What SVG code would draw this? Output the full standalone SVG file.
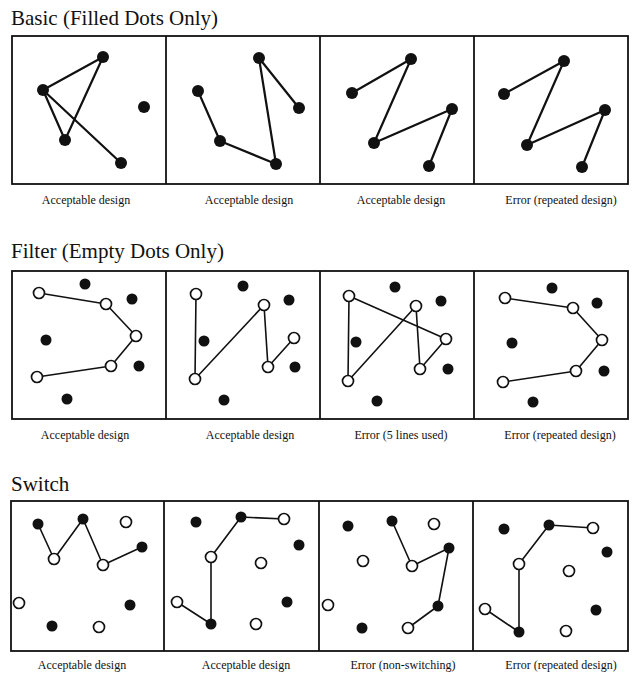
<svg xmlns="http://www.w3.org/2000/svg" width="634" height="681" viewBox="0 0 634 681">
<style>
.bg{fill:#fff}
.box{fill:none;stroke:#111;stroke-width:1.8}
.title{font-family:"Liberation Serif","Times New Roman",serif;font-size:21px;fill:#111}
.cap{font-family:"Liberation Serif","Times New Roman",serif;font-size:12px;fill:#111;text-anchor:middle}
.l1{stroke:#111;stroke-width:2.2;fill:none;stroke-linecap:round;stroke-linejoin:round}
.l2{stroke:#111;stroke-width:1.6;fill:none;stroke-linecap:round;stroke-linejoin:round}
.f{fill:#111}
.e{fill:#fff;stroke:#111;stroke-width:1.7}
</style>
<rect class="bg" width="634" height="681"/>

<text class="title" x="11" y="25">Basic (Filled Dots Only)</text>
<text class="title" x="11" y="258">Filter (Empty Dots Only)</text>
<text class="title" x="11" y="491">Switch</text>

<g id="frames">
<rect class="box" x="12" y="36" width="616" height="148"/>
<line class="box" x1="166" y1="36" x2="166" y2="184"/>
<line class="box" x1="320" y1="36" x2="320" y2="184"/>
<line class="box" x1="474" y1="36" x2="474" y2="184"/>
<rect class="box" x="12" y="271" width="616" height="148"/>
<line class="box" x1="166" y1="271" x2="166" y2="419"/>
<line class="box" x1="320" y1="271" x2="320" y2="419"/>
<line class="box" x1="474" y1="271" x2="474" y2="419"/>
<rect class="box" x="11" y="501" width="617" height="150"/>
<line class="box" x1="164" y1="501" x2="164" y2="651"/>
<line class="box" x1="319" y1="501" x2="319" y2="651"/>
<line class="box" x1="473" y1="501" x2="473" y2="651"/>
</g>

<g id="connectors">
<!-- row 1 -->
<polyline class="l1" points="103,57 65,140 43,90 103,57"/>
<line class="l1" x1="43" y1="90" x2="121" y2="163"/>
<polyline class="l1" points="198,91 220,141 276,164 259,58 299,108"/>
<polyline class="l1" points="352,93 411,59 374,143 452,109 429,166"/>
<polyline class="l1" points="504,94 564,61 527,145 605,110 582,167"/>
<!-- row 2 -->
<polyline class="l2" points="39,293 106,304 136,336 111,366 37,377"/>
<polyline class="l2" points="196,294 195,379 264,305 268,367 294,338"/>
<polyline class="l2" points="349,296 348,381 416,306 420,369 446,339 349,296"/>
<polyline class="l2" points="505,298 573,308 602,340 576,371 503,382"/>
<!-- row 3 -->
<polyline class="l2" points="38,524 54,559 83,519 103,565 142,547"/>
<polyline class="l2" points="284,519 241,517 211,557 211,624 177,602"/>
<polyline class="l2" points="392,521 412,566 449,548 438,606 408,628"/>
<polyline class="l2" points="593,528 549,525 519,564 519,632 485,609"/>
</g>

<g id="panel-basic-1">
<circle class="f" cx="103" cy="57" r="6"/>
<circle class="f" cx="43" cy="90" r="6"/>
<circle class="f" cx="65" cy="140" r="6"/>
<circle class="f" cx="121" cy="163" r="6"/>
<circle class="f" cx="144" cy="107" r="6"/>
</g>
<g id="panel-basic-2">
<circle class="f" cx="259" cy="58" r="6"/>
<circle class="f" cx="198" cy="91" r="6"/>
<circle class="f" cx="299" cy="108" r="6"/>
<circle class="f" cx="220" cy="141" r="6"/>
<circle class="f" cx="276" cy="164" r="6"/>
</g>
<g id="panel-basic-3">
<circle class="f" cx="411" cy="59" r="6"/>
<circle class="f" cx="352" cy="93" r="6"/>
<circle class="f" cx="452" cy="109" r="6"/>
<circle class="f" cx="374" cy="143" r="6"/>
<circle class="f" cx="429" cy="166" r="6"/>
</g>
<g id="panel-basic-4">
<circle class="f" cx="564" cy="61" r="6"/>
<circle class="f" cx="504" cy="94" r="6"/>
<circle class="f" cx="605" cy="110" r="6"/>
<circle class="f" cx="527" cy="145" r="6"/>
<circle class="f" cx="582" cy="167" r="6"/>
</g>

<g id="panel-filter-1">
<circle class="f" cx="85" cy="284" r="5.5"/>
<circle class="f" cx="132" cy="299" r="5.5"/>
<circle class="f" cx="46" cy="340" r="5.5"/>
<circle class="f" cx="139" cy="366" r="5.5"/>
<circle class="f" cx="67" cy="399" r="5.5"/>
<circle class="e" cx="39" cy="293" r="5.5"/>
<circle class="e" cx="106" cy="304" r="5.5"/>
<circle class="e" cx="136" cy="336" r="5.5"/>
<circle class="e" cx="111" cy="366" r="5.5"/>
<circle class="e" cx="37" cy="377" r="5.5"/>
</g>
<g id="panel-filter-2">
<circle class="f" cx="243" cy="286" r="5.5"/>
<circle class="f" cx="289" cy="300" r="5.5"/>
<circle class="f" cx="204" cy="341" r="5.5"/>
<circle class="f" cx="295" cy="367" r="5.5"/>
<circle class="f" cx="224" cy="400" r="5.5"/>
<circle class="e" cx="196" cy="294" r="5.5"/>
<circle class="e" cx="264" cy="305" r="5.5"/>
<circle class="e" cx="294" cy="338" r="5.5"/>
<circle class="e" cx="268" cy="367" r="5.5"/>
<circle class="e" cx="195" cy="379" r="5.5"/>
</g>
<g id="panel-filter-3">
<circle class="f" cx="395" cy="287" r="5.5"/>
<circle class="f" cx="441" cy="301" r="5.5"/>
<circle class="f" cx="356" cy="342" r="5.5"/>
<circle class="f" cx="448" cy="369" r="5.5"/>
<circle class="f" cx="377" cy="401" r="5.5"/>
<circle class="e" cx="349" cy="296" r="5.5"/>
<circle class="e" cx="416" cy="306" r="5.5"/>
<circle class="e" cx="446" cy="339" r="5.5"/>
<circle class="e" cx="420" cy="369" r="5.5"/>
<circle class="e" cx="348" cy="381" r="5.5"/>
</g>
<g id="panel-filter-4">
<circle class="f" cx="552" cy="288" r="5.5"/>
<circle class="f" cx="597" cy="303" r="5.5"/>
<circle class="f" cx="512" cy="343" r="5.5"/>
<circle class="f" cx="604" cy="371" r="5.5"/>
<circle class="f" cx="533" cy="402" r="5.5"/>
<circle class="e" cx="505" cy="298" r="5.5"/>
<circle class="e" cx="573" cy="308" r="5.5"/>
<circle class="e" cx="602" cy="340" r="5.5"/>
<circle class="e" cx="576" cy="371" r="5.5"/>
<circle class="e" cx="503" cy="382" r="5.5"/>
</g>

<g id="panel-switch-1">
<circle class="f" cx="38" cy="524" r="5.5"/>
<circle class="f" cx="83" cy="519" r="5.5"/>
<circle class="f" cx="142" cy="547" r="5.5"/>
<circle class="f" cx="130" cy="605" r="5.5"/>
<circle class="f" cx="52" cy="626" r="5.5"/>
<circle class="e" cx="126" cy="522" r="5.5"/>
<circle class="e" cx="54" cy="559" r="5.5"/>
<circle class="e" cx="103" cy="565" r="5.5"/>
<circle class="e" cx="19" cy="603" r="5.5"/>
<circle class="e" cx="99" cy="627" r="5.5"/>
</g>
<g id="panel-switch-2">
<circle class="f" cx="196" cy="522" r="5.5"/>
<circle class="f" cx="241" cy="517" r="5.5"/>
<circle class="f" cx="299" cy="545" r="5.5"/>
<circle class="f" cx="287" cy="602" r="5.5"/>
<circle class="f" cx="211" cy="624" r="5.5"/>
<circle class="e" cx="284" cy="519" r="5.5"/>
<circle class="e" cx="211" cy="557" r="5.5"/>
<circle class="e" cx="261" cy="563" r="5.5"/>
<circle class="e" cx="177" cy="602" r="5.5"/>
<circle class="e" cx="256" cy="624" r="5.5"/>
</g>
<g id="panel-switch-3">
<circle class="f" cx="348" cy="526" r="5.5"/>
<circle class="f" cx="392" cy="521" r="5.5"/>
<circle class="f" cx="449" cy="548" r="5.5"/>
<circle class="f" cx="438" cy="606" r="5.5"/>
<circle class="f" cx="362" cy="628" r="5.5"/>
<circle class="e" cx="434" cy="524" r="5.5"/>
<circle class="e" cx="363" cy="561" r="5.5"/>
<circle class="e" cx="412" cy="566" r="5.5"/>
<circle class="e" cx="328" cy="605" r="5.5"/>
<circle class="e" cx="408" cy="628" r="5.5"/>
</g>
<g id="panel-switch-4">
<circle class="f" cx="504" cy="529" r="5.5"/>
<circle class="f" cx="549" cy="525" r="5.5"/>
<circle class="f" cx="607" cy="552" r="5.5"/>
<circle class="f" cx="596" cy="610" r="5.5"/>
<circle class="f" cx="519" cy="632" r="5.5"/>
<circle class="e" cx="593" cy="528" r="5.5"/>
<circle class="e" cx="519" cy="564" r="5.5"/>
<circle class="e" cx="569" cy="571" r="5.5"/>
<circle class="e" cx="485" cy="609" r="5.5"/>
<circle class="e" cx="566" cy="631" r="5.5"/>
</g>

<g id="captions">
<text class="cap" x="86" y="204">Acceptable design</text>
<text class="cap" x="249" y="204">Acceptable design</text>
<text class="cap" x="401" y="204">Acceptable design</text>
<text class="cap" x="561" y="204">Error (repeated design)</text>
<text class="cap" x="85" y="439">Acceptable design</text>
<text class="cap" x="250" y="439">Acceptable design</text>
<text class="cap" x="401" y="439">Error (5 lines used)</text>
<text class="cap" x="560" y="439">Error (repeated design)</text>
<text class="cap" x="82" y="669">Acceptable design</text>
<text class="cap" x="246" y="669">Acceptable design</text>
<text class="cap" x="403" y="669">Error (non-switching)</text>
<text class="cap" x="561" y="669">Error (repeated design)</text>
</g>
</svg>
